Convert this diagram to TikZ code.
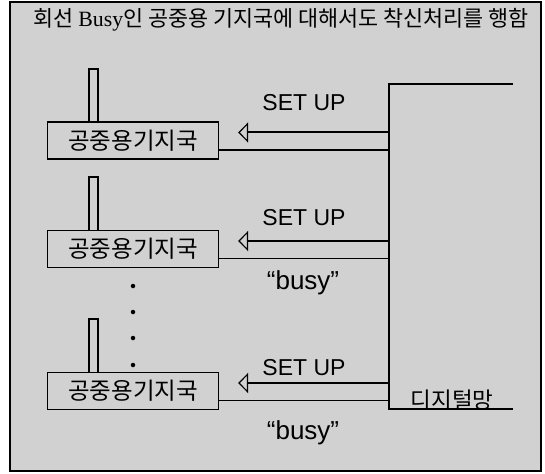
\documentclass[tikz,border=0pt]{standalone}
\usepackage{fontspec}
\newfontfamily\kr{Noto Sans CJK KR}
\newfontfamily\ar{Liberation Sans}
\newfontfamily\sr{Liberation Serif}
\usetikzlibrary{arrows.meta,calc}
\definecolor{bg}{gray}{0.82}
\tikzset{
  station/.style={draw, line width=1.2pt, fill=bg, minimum width=171pt, minimum height=37pt, inner sep=0pt, font=\kr\fontsize{23.5}{23.5}\selectfont},
  antenna/.style={draw, line width=1.1pt, fill=bg},
  setlabel/.style={font=\ar\fontsize{23}{23}\selectfont, inner sep=0pt},
  busylabel/.style={font=\ar\fontsize{26}{26}\selectfont, inner sep=0pt},
  sigarrow/.style={line width=2pt, -{Triangle[open, length=10pt, width=20pt, line width=1.2pt]}},
  sigline/.style={line width=1.6pt},
  netline/.style={line width=1.6pt},
  dotmark/.style={circle, fill=black, inner sep=0pt, minimum size=4.5pt},
}
\begin{document}
\begin{tikzpicture}[x=1pt,y=-1pt]
\useasboundingbox (0,0) rectangle (545,473);
\fill[white] (0,0) rectangle (545,473);
\draw[line width=1.3pt, fill=bg] (10,2) rectangle (541,471);
% title
\node (title) at (281,20) {\kr\fontsize{21.8}{22}\selectfont 회선 {\sr Busy}인 공중용 기지국에 대해서도 착신처리를 행함};
% digital network
\node[minimum width=124pt, minimum height=325pt, inner sep=0pt] (net) at (451,246.5) {};
\draw[netline] (net.north east) -- (net.north west) -- (net.south west) -- (net.south east);
\node[font=\kr\fontsize{22.5}{22.5}\selectfont, inner sep=0pt, anchor=south] (netlabel) at (452,410) {디지털망};
% antennas
\draw[antenna] (89,69) rectangle (98,122);
\draw[antenna] (89,177) rectangle (98,231);
\draw[antenna] (89,319) rectangle (98,373);
% stations
\node[station] (s1) at (133,140.5) {공중용기지국};
\node[station] (s2) at (133,249) {공중용기지국};
\node[station] (s3) at (133,391) {공중용기지국};
% dots
\foreach \i/\yy in {1/286,2/312,3/338,4/365}
  \node[dotmark] (d\i) at (133,\yy) {};
% connectors
\foreach \s in {s1,s2,s3}{
  \coordinate (\s up) at ([xshift=19pt, yshift=8pt]\s.east);
  \coordinate (\s lo) at ([yshift=-9.5pt]\s.east);
  \draw[sigarrow] (net.west |- \s up) -- (\s up);
  \draw[sigline] (\s lo) -- (net.west |- \s lo);
}
% labels
\node[setlabel] (set1) at (304,103) {SET UP};
\node[setlabel] (set2) at (304,218) {SET UP};
\node[setlabel] (set3) at (304,368) {SET UP};
\node[busylabel] (busy2) at (303,283) {“busy”};
\node[busylabel] (busy3) at (303,433) {“busy”};
\end{tikzpicture}
\end{document}
